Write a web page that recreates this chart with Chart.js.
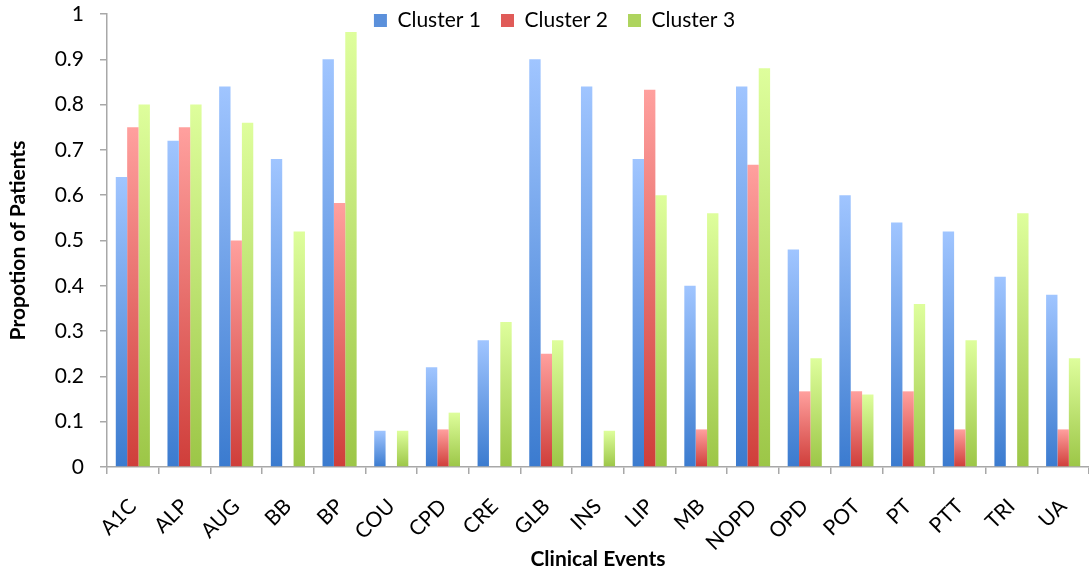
<!DOCTYPE html>
<html>
<head>
<meta charset="utf-8">
<script src="https://cdn.jsdelivr.net/npm/chart.js@4/dist/chart.umd.min.js"></script>
<style>
  html, body { margin: 0; padding: 0; background: #fff; }
  #wrap { width: 1089px; height: 578px; }
</style>
</head>
<body>
<div id="wrap"><canvas id="barChart"></canvas></div>
<script>
// Kategori dan nilai tiap klaster
const categories = ['A1C', 'ALP', 'AUG', 'BB', 'BP', 'COU', 'CPD', 'CRE', 'GLB', 'INS',
    'LIP', 'MB', 'NOPD', 'OPD', 'POT', 'PT', 'PTT', 'TRI', 'UA'];
const cluster1 = [0.64, 0.72, 0.84, 0.68, 0.90, 0.08, 0.22, 0.28, 0.90, 0.84,
    0.68, 0.40, 0.84, 0.48, 0.60, 0.54, 0.52, 0.42, 0.38];
const cluster2 = [0.75, 0.75, 0.50, 0, 0.583, 0, 0.083, 0, 0.25, 0,
    0.833, 0.083, 0.667, 0.167, 0.167, 0.167, 0.083, 0, 0.083];
const cluster3 = [0.80, 0.80, 0.76, 0.52, 0.96, 0.08, 0.12, 0.32, 0.28, 0.08,
    0.60, 0.56, 0.88, 0.24, 0.16, 0.36, 0.28, 0.56, 0.24];
const yTicks = [0, 0.1, 0.2, 0.3, 0.4, 0.5, 0.6, 0.7, 0.8, 0.9, 1];

const fontFamily = 'Lato, "Open Sans", sans-serif';

// Gradien per batang: terang di atas, gelap di bawah
function barGradient(top, bottom) {
    return function(ctx) {
        const chart = ctx.chart;
        if (!chart.chartArea || ctx.type !== 'data') return bottom;
        const y = chart.scales.y;
        const yTop = y.getPixelForValue(ctx.raw);
        const yBase = y.getPixelForValue(0);
        if (yBase - yTop < 1) return bottom;
        const g = chart.ctx.createLinearGradient(0, yTop, 0, yBase);
        g.addColorStop(0, top);
        g.addColorStop(1, bottom);
        return g;
    };
}

const seriesStyle = [
    { label: 'Cluster 1', data: cluster1, top: '#a0c5ff', bottom: '#3b7bcf', mid: '#5b90db' },
    { label: 'Cluster 2', data: cluster2, top: '#ffa09e', bottom: '#cf3e3a', mid: '#e05b58' },
    { label: 'Cluster 3', data: cluster3, top: '#defe9c', bottom: '#9cc647', mid: '#aed45e' }
];

// Legenda menumpang di atas area grafik
const legendOverlay = {
    id: 'legendOverlay',
    beforeInit(chart) {
        const fit = chart.legend.fit;
        chart.legend.fit = function() {
            fit.bind(chart.legend)();
            this.height = 1;
        };
    },
    afterLayout(chart) {
        const lg = chart.legend;
        lg.left += 8;
        lg.right += 8;
        lg.top = -10;
        lg.bottom = 44;
        lg.height = 54;
    }
};

const ctx = document.getElementById('barChart').getContext('2d');
const barChart = new Chart(ctx, {
    type: 'bar',
    data: {
        labels: categories,
        datasets: seriesStyle.map(s => ({
            label: s.label,
            data: s.data,
            backgroundColor: barGradient(s.top, s.bottom),
            borderWidth: 0,
            categoryPercentage: 0.66,
            barPercentage: 1.0
        }))
    },
    plugins: [legendOverlay],
    options: {
        responsive: true,
        maintainAspectRatio: false,
        animation: false,
        layout: { padding: { top: 13, right: 0, bottom: 6, left: 4 } },
        plugins: {
            tooltip: { enabled: false },
            legend: {
                position: 'top',
                labels: {
                    font: { family: fontFamily, size: 21 },
                    color: '#000',
                    boxWidth: 13,
                    boxHeight: 13,
                    padding: 20,
                    generateLabels: () => seriesStyle.map((s, i) => ({
                        text: s.label,
                        fillStyle: s.mid,
                        strokeStyle: s.mid,
                        lineWidth: 0,
                        datasetIndex: i
                    }))
                }
            }
        },
        scales: {
            x: {
                grid: {
                    display: true,
                    drawOnChartArea: false,
                    offset: true,
                    tickLength: 7,
                    color: '#a8a8a8',
                    lineWidth: 1.5
                },
                border: { color: '#a8a8a8', width: 1.5 },
                ticks: {
                    font: { family: fontFamily, size: 21 },
                    color: '#000',
                    minRotation: 45,
                    maxRotation: 45,
                    padding: 20,
                    autoSkip: false
                },
                title: {
                    display: true,
                    text: 'Clinical Events',
                    font: { family: fontFamily, size: 21, weight: 'bold' },
                    color: '#000',
                    padding: { top: 0, bottom: 0 }
                },
                afterFit(scale) {
                    scale.height = 105;
                    scale.paddingLeft = 0;
                    scale.paddingRight = 0;
                }
            },
            y: {
                min: 0,
                max: 1,
                afterBuildTicks(scale) { scale.ticks = yTicks.map(v => ({ value: v })); },
                grid: {
                    display: true,
                    drawOnChartArea: false,
                    tickLength: 7,
                    color: '#a8a8a8',
                    lineWidth: 1.5
                },
                border: { color: '#a8a8a8', width: 1.5 },
                ticks: {
                    font: { family: fontFamily, size: 21 },
                    color: '#000',
                    padding: 16,
                    callback: v => String(+v.toFixed(1))
                },
                title: {
                    display: true,
                    text: 'Propotion of Patients',
                    font: { family: fontFamily, size: 21, weight: 'bold' },
                    color: '#000',
                    padding: { top: 2, bottom: 0 }
                },
                afterFit(scale) {
                    scale.width = 103;
                    scale.paddingTop = 0;
                    scale.paddingBottom = 0;
                }
            }
        }
    }
});
</script>
</body>
</html>
